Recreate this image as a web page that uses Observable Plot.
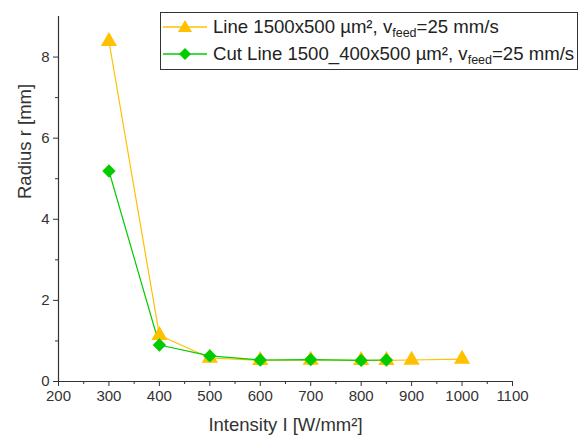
<!DOCTYPE html>
<html><head><meta charset="utf-8">
<script src="https://cdn.jsdelivr.net/npm/d3@7"></script>
<script src="https://cdn.jsdelivr.net/npm/@observablehq/plot@0.6"></script>
<style>
body{margin:0;background:#fff;font-family:"Liberation Sans",Arial,sans-serif;}
#wrap{position:relative;width:585px;height:442px;}
#legend{position:absolute;left:160px;top:12px;width:418px;height:58px;border:1px solid #333;background:#fff;box-sizing:border-box;font-size:18.6px;color:#222;}
.row{position:absolute;left:2px;height:27px;display:flex;align-items:center;white-space:nowrap;}
.row svg{margin-right:6px}
sub{font-size:12.5px;vertical-align:-4px;line-height:0}
</style></head>
<body><div id="wrap"><div id="chart"></div>
<div id="legend">
<div class="row" style="top:0px"><svg width="44" height="20"><line x1="0" y1="10" x2="44" y2="10" stroke="#FFC000" stroke-width="1.3"/><path d="M22,3 L29,15 L15,15 Z" fill="#FFC000"/></svg><span>Line 1500x500 µm², v<sub>feed</sub>=25 mm/s</span></div>
<div class="row" style="top:27px"><svg width="44" height="20"><line x1="0" y1="10" x2="44" y2="10" stroke="#00CC00" stroke-width="1.3"/><path d="M22,4 L28,10 L22,16 L16,10 Z" fill="#00CC00"/></svg><span>Cut Line 1500_400x500 µm², v<sub>feed</sub>=25 mm/s</span></div>
</div></div>
<script>
const lineX = [300, 400, 500, 600, 700, 800, 850, 900, 1000];
const lineR = [8.39, 1.14, 0.58, 0.52, 0.53, 0.52, 0.52, 0.53, 0.55];
const cutX = [300, 400, 500, 600, 700, 800, 850];
const cutR = [5.19, 0.90, 0.63, 0.53, 0.54, 0.52, 0.53];
const xTicks = [200, 300, 400, 500, 600, 700, 800, 900, 1000, 1100];
const yTicks = [0, 2, 4, 6, 8];

const line = lineX.map((x, i) => ({x, r: lineR[i]}));
const cut = cutX.map((x, i) => ({x, r: cutR[i]}));
const orange = "#FFC000", green = "#00CC00", ink = "#333";

const chart = Plot.plot({
  width: 585, height: 442,
  marginLeft: 58, marginRight: 73, marginTop: 16, marginBottom: 61,
  style: {fontFamily: "'Liberation Sans', Arial, sans-serif", fontSize: "15px", color: ink, background: "#fff"},
  x: {domain: [200, 1100]},
  y: {domain: [0, 9]},
  marks: [
    Plot.axisX({ticks: xTicks, tickFormat: "d", tickSize: 5, tickPadding: 4, stroke: ink, fill: ink, fontSize: 15, label: null}),
    Plot.axisX({ticks: d3.range(250, 1100, 100), tickSize: 3, text: null, stroke: ink, label: null}),
    Plot.axisY({ticks: yTicks, tickFormat: "d", tickSize: 5, tickPadding: 4, stroke: ink, fill: ink, fontSize: 15, label: null}),
    Plot.axisY({ticks: [1, 3, 5, 7], tickSize: 3, text: null, stroke: ink, label: null}),
    Plot.ruleY([0], {stroke: ink, strokeWidth: 1.2}),
    Plot.ruleX([200], {stroke: ink, strokeWidth: 1.2}),
    Plot.line(line, {x: "x", y: "r", stroke: orange, strokeWidth: 1.2}),
    Plot.line(cut, {x: "x", y: "r", stroke: green, strokeWidth: 1.2}),
    Plot.dot(line, {x: "x", y: "r", symbol: "triangle", fill: orange, r: 6}),
    Plot.dot(cut, {x: "x", y: "r", symbol: "diamond2", fill: green, r: 6}),
    Plot.text(["Intensity I [W/mm²]"], {frameAnchor: "bottom", dy: 49, fontSize: 18.5, fill: ink}),
    Plot.text(["Radius r [mm]"], {frameAnchor: "left", dx: -33, rotate: -90, fontSize: 18.5, fill: ink})
  ]
});
document.getElementById("chart").appendChild(chart);
</script></body></html>
